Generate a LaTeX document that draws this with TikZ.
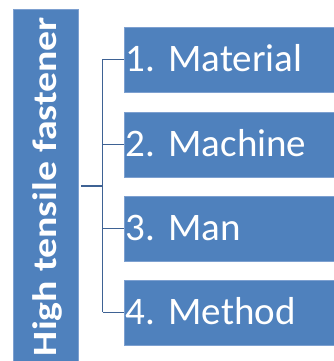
\documentclass[tikz,border=0pt]{standalone}
\usepackage{fontspec}
\setmainfont{Carlito}
\definecolor{boxblue}{RGB}{79,129,189}
\definecolor{boxedge}{RGB}{125,160,208}
\definecolor{linkblue}{RGB}{62,98,148}
\begin{document}
\frenchspacing
\begin{tikzpicture}[x=1pt,y=1pt,
  itembox/.style={rectangle, fill=boxblue, draw=boxedge, line width=0.8pt,
    anchor=west, text=white, text width=208pt, align=left,
    inner xsep=1.5pt, inner ysep=0pt, minimum height=65pt,
    font=\fontsize{39}{46}\selectfont, text height=25pt, text depth=0pt},
  rootbox/.style={rectangle, fill=boxblue, draw=boxedge, line width=0.8pt,
    rotate=90, text=white, minimum width=355pt, minimum height=65pt,
    inner sep=0pt, font=\bfseries\fontsize{34}{40}\selectfont,
    text height=22pt, text depth=0pt},
  link/.style={draw=linkblue, line width=1.4pt}]
\useasboundingbox (0,0) rectangle (333,361);
\node[rootbox] (root) at (45.5,174.5) {\scalebox{1.17}[1]{High tensile fastener}};
\node[itembox] (b1) at (124,301.5) {1. Material};
\node[itembox] (b2) at (124,216.5) {2. Machine};
\node[itembox] (b3) at (124,132.5) {3. Man};
\node[itembox] (b4) at (124,48.5) {4. Method};
\coordinate (bus) at (102.5,175);
\draw[link] (root.south |- bus) ++(2.5pt,0) -- (bus);
\draw[link] (bus |- b1.west) -- (bus |- b4.west);
\foreach \b in {b1,b2,b3,b4}{
  \draw[link] (bus |- \b.west) -- (\b.west);
}
\end{tikzpicture}
\end{document}
